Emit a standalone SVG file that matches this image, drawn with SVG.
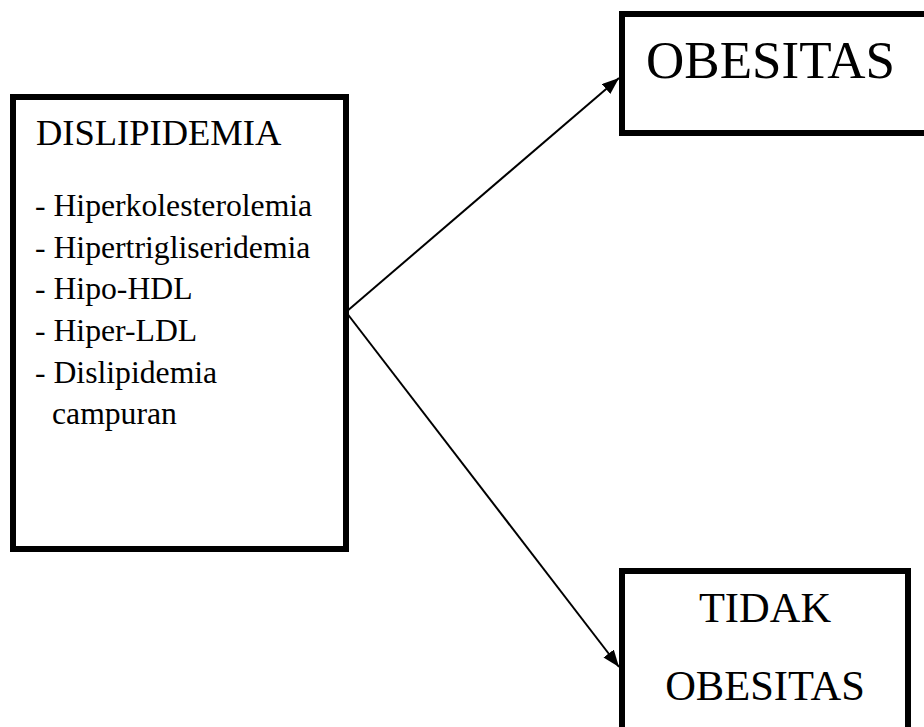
<svg xmlns="http://www.w3.org/2000/svg" width="924" height="727" viewBox="0 0 924 727">
<style>
.box{fill:#fff;stroke:#000;stroke-width:6}
.t{font-family:"Liberation Serif","Times New Roman",serif;fill:#000}
.li{font-size:31.7px}
.conn{stroke:#000;stroke-width:2;fill:none}
</style>
<defs>
<marker id="arr" viewBox="0 0 17 13" refX="17" refY="6.5" markerWidth="17" markerHeight="13" markerUnits="userSpaceOnUse" orient="auto">
<path d="M0,0 L17,6.5 L0,13 z" fill="#000"/>
</marker>
</defs>
<rect width="924" height="727" fill="#fff"/>
<g id="dislipidemia">
<rect class="box" x="13" y="97" width="333" height="452"/>
<text class="t" x="36" y="145" font-size="36.5">DISLIPIDEMIA</text>
<text class="t li" x="35" y="216">- Hiperkolesterolemia</text>
<text class="t li" x="35" y="258">- Hipertrigliseridemia</text>
<text class="t li" x="35" y="299">- Hipo-HDL</text>
<text class="t li" x="35" y="341">- Hiper-LDL</text>
<text class="t li" x="35" y="383">- Dislipidemia</text>
<text class="t li" x="52" y="424">campuran</text>
</g>
<g id="obesitas">
<rect class="box" x="622" y="14" width="320" height="119"/>
<text class="t" x="646" y="78" font-size="53">OBESITAS</text>
</g>
<g id="tidak-obesitas">
<rect class="box" x="622" y="571" width="286" height="180"/>
<text class="t" x="765" y="622" font-size="42.5" text-anchor="middle">TIDAK</text>
<text class="t" x="765" y="700" font-size="42.5" text-anchor="middle">OBESITAS</text>
</g>
<g id="connectors">
<line class="conn" x1="346" y1="312" x2="619" y2="78" marker-end="url(#arr)"/>
<line class="conn" x1="346" y1="312" x2="619" y2="667" marker-end="url(#arr)"/>
</g>
</svg>
